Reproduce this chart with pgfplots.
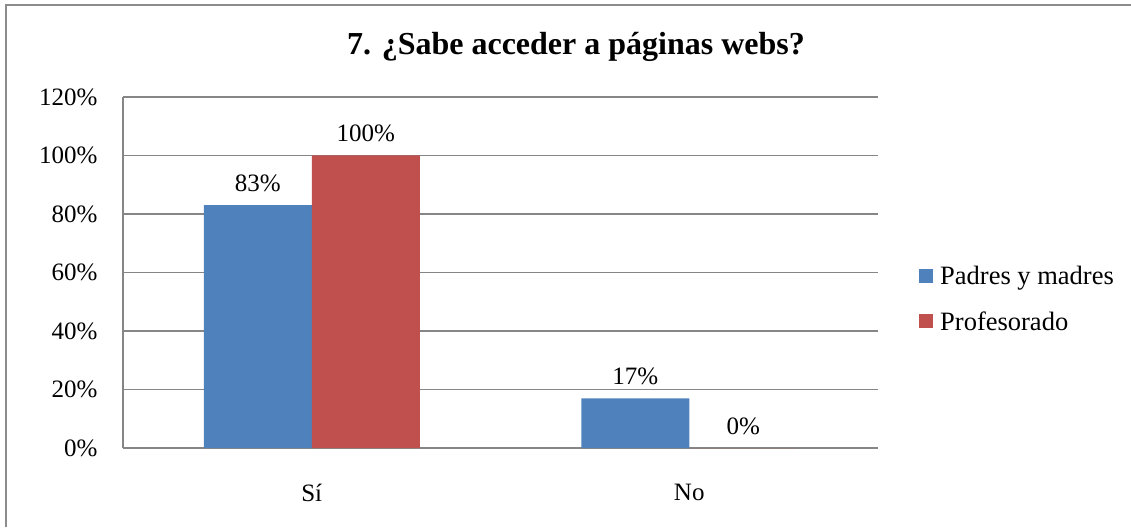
\documentclass[border=0pt]{standalone}
\usepackage{fontspec}
\setmainfont{Liberation Serif}
\usepackage{pgfplots}
\pgfplotsset{compat=1.18}
\definecolor{barblue}{RGB}{79,129,189}
\definecolor{barred}{RGB}{192,80,77}
\definecolor{gridgray}{RGB}{134,134,134}
\begin{document}
\begin{tikzpicture}[x=1pt,y=1pt]
  \path[use as bounding box] (0,0) rectangle (1131,527);
  \draw[gridgray!95,line width=2pt] (6,0) -- (6,522) -- (1131,522);
  \node[font=\fontsize{32}{38}\selectfont\bfseries] at (576,480) {7. ¿Sabe acceder a páginas webs?};
  \begin{axis}[
    at={(123pt,79pt)}, anchor=south west,
    scale only axis, width=755pt, height=351pt,
    ybar=0pt, bar width=108pt,
    xmin=-0.5, xmax=1.5, ymin=0, ymax=120,
    xtick=data, xticklabels={Sí,No},
    ytick={0,20,...,120},
    yticklabel={\pgfmathprintnumber{\tick}\%},
    /pgf/number format/assume math mode=true,
    major tick length=0pt,
    axis x line*=bottom, axis y line*=left,
    axis line style={gridgray,line width=1.5pt},
    ymajorgrids, grid style={gridgray,line width=1.5pt},
    tick label style={font=\fontsize{25}{30}\selectfont},
    yticklabel style={xshift=-22pt},
    xticklabel style={yshift=-33pt},
    nodes near coords={\pgfmathprintnumber{\pgfplotspointmeta}\%},
    nodes near coords style={font=\fontsize{25}{30}\selectfont, /pgf/number format/assume math mode=true, yshift=10pt},
    legend image code/.code={\fill[#1] (0pt,-7pt) rectangle (14pt,7pt); \path (19pt,0pt);},
    legend style={at={(1,0.4245)}, anchor=west, xshift=41pt, draw=none, fill=none,
      font=\fontsize{26.5}{31}\selectfont, row sep=21pt, cells={anchor=west},
      inner sep=0pt},
    legend cell align=left,
  ]
    \addplot[fill=barblue, draw=none] coordinates {(0,83) (1,17)};
    \addplot[fill=barred, draw=none] coordinates {(0,100) (1,0)};
    \legend{Padres y madres, Profesorado}
  \end{axis}
\end{tikzpicture}
\end{document}
